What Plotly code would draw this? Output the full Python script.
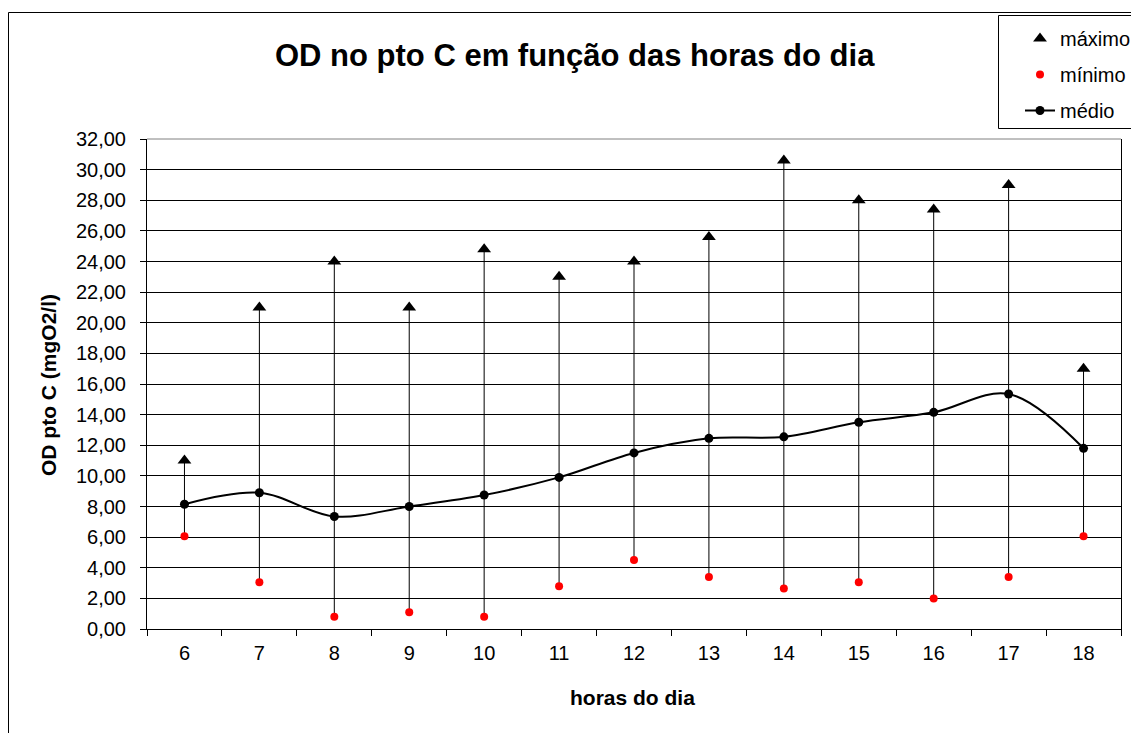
import plotly.graph_objects as go

# Hours of the day (categories)
horas = ["6", "7", "8", "9", "10", "11", "12", "13", "14", "15", "16", "17", "18"]

# Dissolved oxygen at point C (mgO2/l)
maximo = [11.0, 21.0, 24.0, 21.0, 24.8, 23.0, 24.0, 25.6, 30.6, 28.0, 27.4, 29.0, 17.0]
minimo = [6.05, 3.05, 0.8, 1.1, 0.8, 2.8, 4.5, 3.4, 2.65, 3.05, 2.0, 3.4, 6.05]
medio = [8.15, 8.9, 7.35, 8.0, 8.75, 9.9, 11.5, 12.45, 12.55, 13.5, 14.15, 15.35, 11.8]

y_ticks = [2 * i for i in range(17)]

W, H = 1131, 733
L, R, T, B = 147, 1121, 139, 629
FONT = "Liberation Sans, Arial, sans-serif"


def px(x):
    return (x - L) / (R - L)


def py(y):
    return (B - y) / (B - T)


# high-low lines joining max and min of each hour
hl_x, hl_y = [], []
for h, lo, hi in zip(horas, minimo, maximo):
    hl_x += [h, h, None]
    hl_y += [lo, hi, None]

fig = go.Figure()
fig.add_trace(go.Scatter(x=hl_x, y=hl_y, mode="lines",
                         line=dict(color="black", width=1),
                         showlegend=False, hoverinfo="skip"))
fig.add_trace(go.Scatter(x=horas, y=maximo, mode="markers", name="máximo",
                         marker=dict(symbol="triangle-up", size=12, color="black"),
                         legendgroup="a"))
fig.add_trace(go.Scatter(x=horas, y=minimo, mode="markers", name="mínimo",
                         marker=dict(symbol="circle", size=8, color="#ff0000"),
                         legendgroup="b"))
fig.add_trace(go.Scatter(x=horas, y=medio, mode="lines+markers", name="médio",
                         line=dict(color="black", width=2, shape="spline", smoothing=1),
                         marker=dict(symbol="circle", size=9, color="black"),
                         legendgroup="c"))

fig.update_layout(
    width=W, height=H,
    margin=dict(l=L, r=W - R, t=T, b=H - B, pad=0, autoexpand=False),
    paper_bgcolor="white", plot_bgcolor="white",
    separators=",.",
    font=dict(family=FONT, size=20, color="black"),
    showlegend=True,
    legend=dict(x=px(1020), y=py(19), xanchor="left", yanchor="top",
                bgcolor="rgba(0,0,0,0)", borderwidth=0,
                font=dict(family=FONT, size=20, color="black"),
                tracegroupgap=7),
    xaxis=dict(type="category", range=[-0.5, 12.5], showgrid=False,
               showline=True, linecolor="black", linewidth=1,
               ticks="outside", tickson="boundaries", ticklen=6,
               tickcolor="black", tickfont=dict(size=20),
               ticklabelstandoff=6, fixedrange=True),
    yaxis=dict(range=[0, 32], tickvals=y_ticks, tickformat=".2f",
               showgrid=True, gridcolor="black", gridwidth=1,
               showline=True, linecolor="black", linewidth=1, mirror=True,
               ticks="outside", ticklen=6, tickcolor="black",
               tickfont=dict(size=20), ticklabelstandoff=10,
               zeroline=False, fixedrange=True),
    shapes=[
        # chart frame
        dict(type="rect", xref="paper", yref="paper",
             x0=px(8.5), x1=px(1140), y0=py(745), y1=py(12.5),
             line=dict(color="black", width=1), layer="below"),
        # top edge of plot area
        dict(type="line", xref="paper", yref="paper",
             x0=0, x1=1, y0=1, y1=1,
             line=dict(color="#808080", width=1), layer="above"),
        # legend box
        dict(type="rect", xref="paper", yref="paper",
             x0=px(998.5), x1=px(1140), y0=py(128.5), y1=py(15.5),
             line=dict(color="black", width=1), fillcolor="white", layer="above"),
    ],
    annotations=[
        dict(text="<b>OD no pto C em função das horas do dia</b>",
             xref="paper", yref="paper", x=px(575), y=py(56),
             xanchor="center", yanchor="middle", showarrow=False,
             font=dict(family=FONT, size=31, color="black")),
        dict(text="<b>OD pto C (mgO2/l)</b>", textangle=-90,
             xref="paper", yref="paper", x=px(48), y=py(385),
             xanchor="center", yanchor="middle", showarrow=False,
             font=dict(family=FONT, size=21, color="black")),
        dict(text="<b>horas do dia</b>",
             xref="paper", yref="paper", x=px(632), y=py(697),
             xanchor="center", yanchor="middle", showarrow=False,
             font=dict(family=FONT, size=21, color="black")),
    ],
)

fig.write_html("out.html")
